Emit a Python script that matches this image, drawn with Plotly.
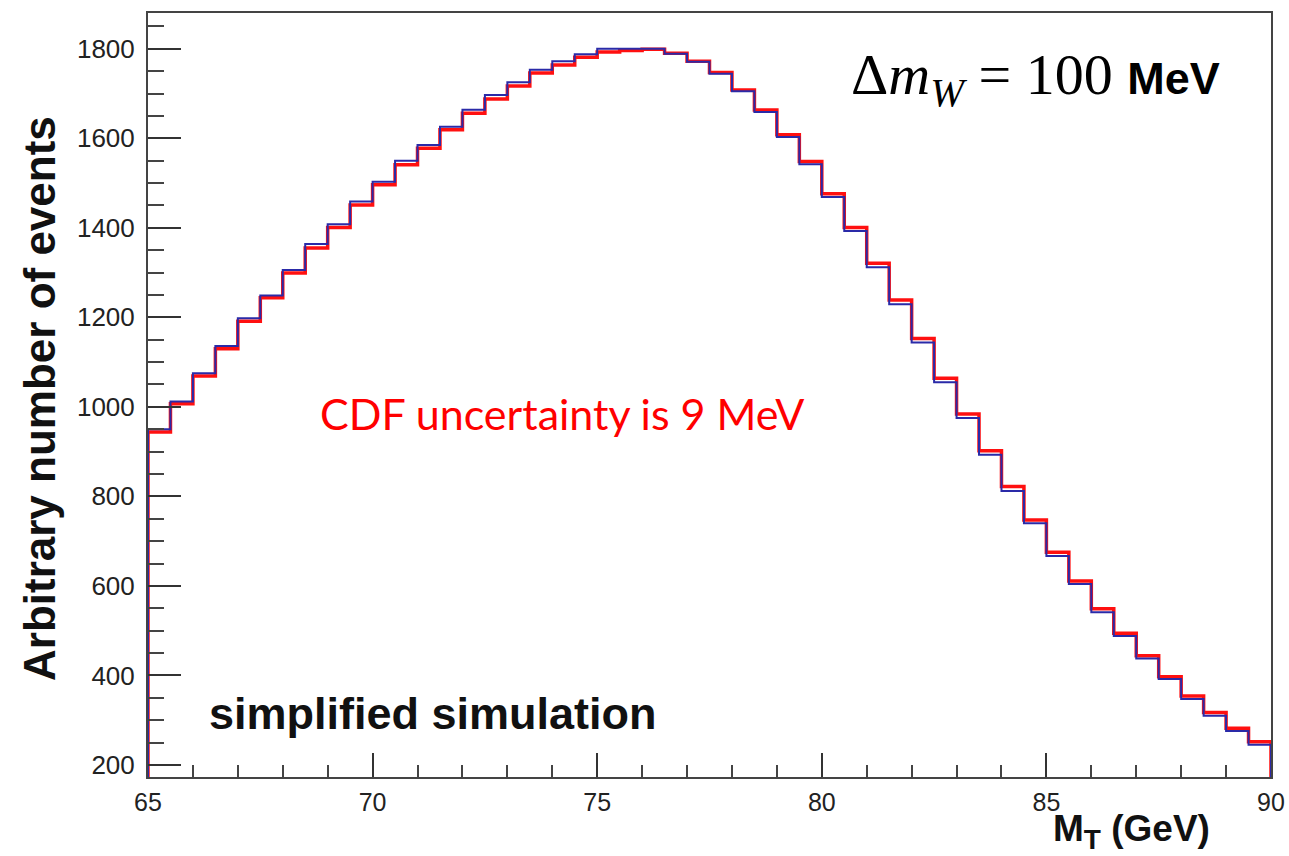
import numpy as np
import plotly.graph_objects as go

# ---- data ----
bin_low = 65.0
bin_width = 0.5
n_bins = 50

blue_counts = [950, 1012, 1075, 1136, 1198, 1249, 1306, 1364, 1408, 1459,
               1503, 1550, 1585, 1626, 1664, 1697, 1725, 1753, 1772, 1788,
               1800, 1800, 1800, 1789, 1771, 1744, 1705, 1659, 1603, 1542,
               1469, 1393, 1312, 1229, 1144, 1055, 975, 893, 812, 740,
               667, 604, 541, 488, 438, 392, 347, 310, 276, 245]
red_counts = [944, 1007, 1069, 1130, 1191, 1244, 1299, 1355, 1401, 1451,
              1496, 1541, 1578, 1619, 1656, 1688, 1717, 1746, 1764, 1781,
              1793, 1796, 1799, 1790, 1772, 1747, 1708, 1663, 1608, 1548,
              1476, 1401, 1321, 1239, 1153, 1064, 984, 902, 822, 747,
              675, 611, 549, 494, 444, 397, 354, 317, 282, 252]

x_ticks = [65, 70, 75, 80, 85, 90]
y_ticks = [200, 400, 600, 800, 1000, 1200, 1400, 1600, 1800]

edges = bin_low + bin_width * np.arange(n_bins + 1)


def step_xy(counts):
    xs = [edges[0]] + list(edges[:-1]) + [edges[-1], edges[-1]]
    ys = [0] + list(counts) + [counts[-1], 0]
    return xs, ys


W, H = 1289, 856
ML, MR, MT, MB = 148, 18, 13, 79
PW, PH = W - ML - MR, H - MT - MB


def px(x):
    return (x - ML) / PW


def py(y):
    return (H - MB - y) / PH


fig = go.Figure()
xr, yr = step_xy(red_counts)
fig.add_trace(go.Scatter(x=xr, y=yr, mode="lines", line_shape="hv",
                         line=dict(color="#ff1010", width=3.5),
                         hoverinfo="skip", showlegend=False))
xb, yb = step_xy(blue_counts)
fig.add_trace(go.Scatter(x=xb, y=yb, mode="lines", line_shape="hv",
                         line=dict(color="#2a2aa8", width=2),
                         hoverinfo="skip", showlegend=False))

axis_font = dict(family="Liberation Sans, Arial, sans-serif", size=26, color="#222")
x_font = dict(family="Liberation Sans, Arial, sans-serif", size=25, color="#222")

fig.update_xaxes(range=[65, 90], tickvals=x_ticks, ticks="inside", ticklen=24,
                 tickwidth=2, tickcolor="#333", showgrid=False, zeroline=False,
                 showline=True, linecolor="#444", linewidth=2, mirror=True,
                 tickfont=x_font, ticklabelstandoff=2, automargin=False,
                 minor=dict(dtick=1, ticks="inside", ticklen=12, tickwidth=2,
                            tickcolor="#444", showgrid=False))
fig.update_yaxes(range=[173, 1880], tickvals=y_ticks, ticks="inside", ticklen=33,
                 tickwidth=2, tickcolor="#333", showgrid=False, zeroline=False,
                 showline=True, linecolor="#444", linewidth=2, mirror=True,
                 tickfont=axis_font, ticklabelstandoff=6, automargin=False,
                 minor=dict(dtick=50, ticks="inside", ticklen=16, tickwidth=2,
                            tickcolor="#444", showgrid=False))

annots = [
    dict(text="Δ<i>m</i><sub><i>W</i></sub> = 100 <span style=\"font-family:Liberation Sans;font-weight:bold;font-size:45px\">MeV</span>",
         x=px(1222), y=py(78), xanchor="right", yanchor="middle",
         font=dict(family="Liberation Serif, Times New Roman, serif", size=58, color="black")),
    dict(text="CDF uncertainty is 9 MeV", x=px(562), y=py(413), xanchor="center", yanchor="middle",
         font=dict(family="Lato, sans-serif", size=43, color="#ff0000")),
    dict(text="<b>simplified simulation</b>", x=px(207), y=py(713), xanchor="left", yanchor="middle",
         font=dict(family="Liberation Sans, Arial, sans-serif", size=45, color="#111")),
    dict(text="<b>Arbitrary number of events</b>", x=px(40), y=py(399), xanchor="center", yanchor="middle",
         textangle=-90,
         font=dict(family="Liberation Sans, Arial, sans-serif", size=44, color="#111")),
    dict(text="<b>M<sub><span style=\"font-size:28px\">T</span></sub> (GeV)</b>", x=px(1212), y=py(831),
         xanchor="right", yanchor="middle",
         font=dict(family="Liberation Sans, Arial, sans-serif", size=37, color="#111")),
]
for a in annots:
    a.update(xref="paper", yref="paper", showarrow=False)

fig.update_layout(width=W, height=H, autosize=False,
                  margin=dict(l=ML, r=MR, t=MT, b=MB, autoexpand=False),
                  paper_bgcolor="white", plot_bgcolor="white",
                  annotations=annots)

fig.write_html("out.html")
